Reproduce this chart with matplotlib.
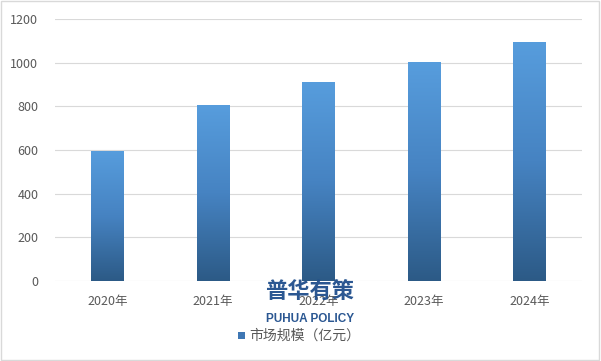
import numpy as np
import matplotlib
matplotlib.use('Agg')
import matplotlib.pyplot as plt
from matplotlib.colors import LinearSegmentedColormap
from matplotlib.patches import Rectangle

plt.rcParams['font.family'] = ['Noto Sans CJK SC', 'DejaVu Sans']

years = ['2020年', '2021年', '2022年', '2023年', '2024年']
values = [597, 806, 911, 1002, 1095]
series_name = '市场规模（亿元）'

fig = plt.figure(figsize=(6.01, 3.61), dpi=100)
ax = fig.add_axes([55 / 601, 1 - 281 / 361, (582 - 55) / 601, 262 / 361])

grad = LinearSegmentedColormap.from_list('g', ['#2c5a86', '#4683c2', '#579ddd'])
x = np.arange(len(years))
width = 0.31
bars = ax.bar(x, values, width=width, color='none', zorder=2)
img = np.linspace(0, 1, 256).reshape(-1, 1)
for b in bars:
    x0, y0 = b.get_x(), b.get_y()
    w, h = b.get_width(), b.get_height()
    im = ax.imshow(img, cmap=grad, aspect='auto', origin='lower',
                   extent=[x0, x0 + w, y0, y0 + h], zorder=2)
    im.set_clip_path(b)

ax.set_xlim(-0.5, len(years) - 0.5)
ax.set_ylim(0, 1200)
ax.set_yticks(range(0, 1201, 200))
ax.set_xticks(x)
ax.set_xticklabels(years)
ax.grid(axis='y', color='#d9d9d9', linewidth=0.8, zorder=0)
for s in ax.spines.values():
    s.set_visible(False)
ax.tick_params(length=0, labelsize=9, colors='#595959')
ax.tick_params(axis='x', pad=10)
ax.tick_params(axis='y', pad=12)

# legend
fig.patches.append(Rectangle((238 / 601, 1 - 339 / 361), 7 / 601, 7 / 361,
                             transform=fig.transFigure, facecolor='#3f77b4',
                             edgecolor='none'))
fig.text(249 / 601, 1 - 336 / 361, series_name, fontsize=10, color='#595959',
         va='center', ha='left')

# watermark
fig.text(310 / 601, 1 - 291 / 361, '普华有策', fontsize=16, fontweight='bold',
         color='#1f4e8c', ha='center', va='center', alpha=0.95)
fig.text(310 / 601, 1 - 319 / 361, 'PUHUA POLICY', fontsize=8.5, fontweight='bold',
         color='#1f4e8c', ha='center', va='center',
         family=['Liberation Sans Narrow', 'Liberation Sans'], alpha=0.95)

# outer border
fig.patches.append(Rectangle((0.002, 0.003), 0.995, 0.994, transform=fig.transFigure,
                             fill=False, edgecolor='#d9d9d9', linewidth=1))

fig.savefig('out.png', dpi=100)
